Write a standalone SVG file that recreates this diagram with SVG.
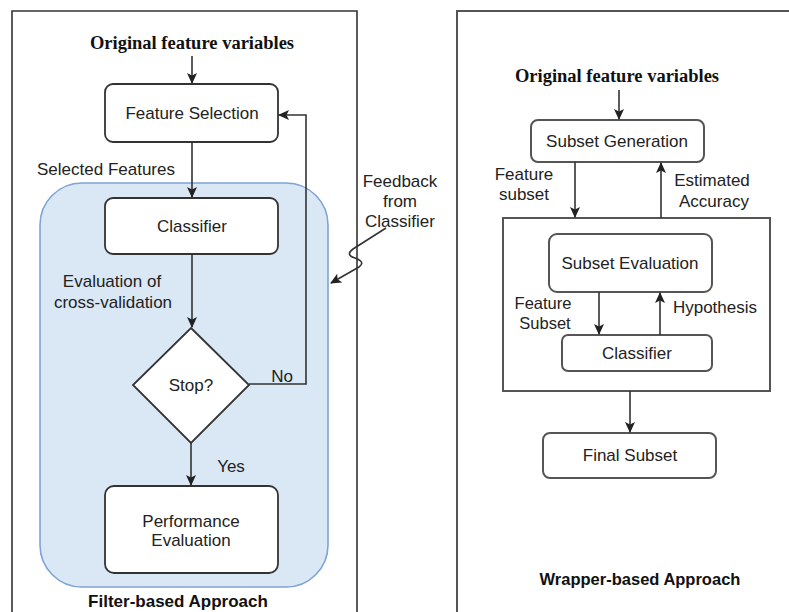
<svg xmlns="http://www.w3.org/2000/svg" width="789" height="612" viewBox="0 0 789 612">
<defs>
<marker id="ah" markerWidth="11" markerHeight="11" refX="10" refY="5.5" orient="auto" markerUnits="userSpaceOnUse">
<path d="M0,0.5 L11,5.5 L0,10.5 L2.5,5.5 Z" fill="#222"/>
</marker>
<style>
.frame{fill:none;stroke:#333;stroke-width:1.6}
.frame2{fill:none;stroke:#555;stroke-width:2}
.box{fill:#fff;stroke:#333;stroke-width:1.8}
.box2{fill:#fff;stroke:#555;stroke-width:2}
.conn{fill:none;stroke:#333;stroke-width:1.6}
.t{font-family:"Liberation Sans",Arial,sans-serif;font-size:17px;fill:#222;text-anchor:middle}
.ts{font-family:"Liberation Sans",Arial,sans-serif;font-size:16.5px;fill:#222;text-anchor:middle}
.tb{font-family:"Liberation Sans",Arial,sans-serif;font-size:17px;font-weight:bold;fill:#111;text-anchor:middle}
.ser{font-family:"Liberation Serif","Times New Roman",serif;font-size:18.5px;font-weight:bold;fill:#111;text-anchor:middle}
</style>
</defs>
<rect width="789" height="612" fill="#fff"/>

<!-- frames -->
<g id="filter-frame">
<path class="frame" d="M12,618 L12,11 L357,11 L357,618"/>
<rect x="40" y="183" width="288" height="404" rx="42" ry="42" fill="#dae8f5" stroke="#7fa3d6" stroke-width="1.6"/>
<text class="tb" x="178" y="607">Filter-based Approach</text>
</g>
<g id="wrapper-frame">
<path class="frame2" d="M457,618 L457,11 L795,11"/>
<text class="tb" x="640" y="585" style="font-size:16.5px">Wrapper-based Approach</text>
</g>

<!-- left nodes -->
<g id="orig-left"><text class="ser" x="192" y="49">Original feature variables</text></g>
<g id="feature-selection">
<rect class="box" x="105" y="84" width="173" height="58" rx="8"/>
<text class="t" x="192" y="119">Feature Selection</text>
</g>
<g id="classifier-left">
<rect class="box" x="105" y="198" width="173" height="56" rx="8"/>
<text class="t" x="192" y="232">Classifier</text>
</g>
<g id="stop">
<polygon class="box" points="191,328 249,385 191,443 133,385"/>
<text class="t" x="191" y="391">Stop?</text>
</g>
<g id="performance">
<rect class="box" x="105" y="486" width="173" height="87" rx="9"/>
<text class="t" x="191" y="527">Performance</text>
<text class="t" x="191" y="546">Evaluation</text>
</g>

<!-- right nodes -->
<g id="orig-right"><text class="ser" x="617" y="82">Original feature variables</text></g>
<g id="subset-generation">
<rect class="box2" x="531" y="120" width="173" height="42" rx="7"/>
<text class="t" x="617" y="147">Subset Generation</text>
</g>
<g id="evaluation-frame">
<rect class="frame2" x="503" y="218" width="267" height="173"/>
</g>
<g id="subset-evaluation">
<rect class="box2" x="549" y="234" width="163" height="58" rx="8"/>
<text class="t" x="630" y="269">Subset Evaluation</text>
</g>
<g id="classifier-right">
<rect class="box2" x="562" y="335" width="150" height="36" rx="6"/>
<text class="t" x="637" y="359">Classifier</text>
</g>
<g id="final-subset">
<rect class="box2" x="543" y="433" width="173" height="45" rx="7"/>
<text class="t" x="630" y="461">Final Subset</text>
</g>

<!-- connectors -->
<g id="connectors">
<line class="conn" x1="192" y1="56" x2="192" y2="83" marker-end="url(#ah)"/>
<line class="conn" x1="192" y1="142" x2="192" y2="197" marker-end="url(#ah)"/>
<line class="conn" x1="192" y1="254" x2="192" y2="327" marker-end="url(#ah)"/>
<line class="conn" x1="191" y1="443" x2="191" y2="485" marker-end="url(#ah)"/>
<path class="conn" d="M249,384 L306,384 L306,115 L279,115" marker-end="url(#ah)"/>
<path class="conn" d="M386,228 L353,249 Q345,255 355,258 Q366,262 359,267 L331,283" marker-end="url(#ah)"/>
<line class="conn" x1="619" y1="90" x2="619" y2="119" marker-end="url(#ah)"/>
<line class="conn" x1="575" y1="162" x2="575" y2="217" marker-end="url(#ah)"/>
<line class="conn" x1="661" y1="218" x2="661" y2="163" marker-end="url(#ah)"/>
<line class="conn" x1="599" y1="292" x2="599" y2="334" marker-end="url(#ah)"/>
<line class="conn" x1="660" y1="335" x2="660" y2="293" marker-end="url(#ah)"/>
<line class="conn" x1="630" y1="391" x2="630" y2="432" marker-end="url(#ah)"/>
</g>

<!-- connector labels -->
<g id="labels">
<text class="t" x="106" y="175">Selected Features</text>
<text class="t" x="400" y="187">Feedback</text>
<text class="t" x="400" y="207">from</text>
<text class="t" x="400" y="227">Classifier</text>
<text class="t" x="112" y="287" fill="#352e48">Evaluation of</text>
<text class="t" x="113" y="308" fill="#352e48">cross-validation</text>
<text class="t" x="282" y="382" fill="#3a3020">No</text>
<text class="t" x="231" y="472" fill="#3a3020">Yes</text>
<text class="t" x="524" y="180">Feature</text>
<text class="t" x="524" y="200">subset</text>
<text class="t" x="712" y="186">Estimated</text>
<text class="t" x="714" y="207">Accuracy</text>
<text class="ts" x="543" y="309">Feature</text>
<text class="ts" x="545" y="329">Subset</text>
<text class="t" x="715" y="313">Hypothesis</text>
</g>
</svg>
